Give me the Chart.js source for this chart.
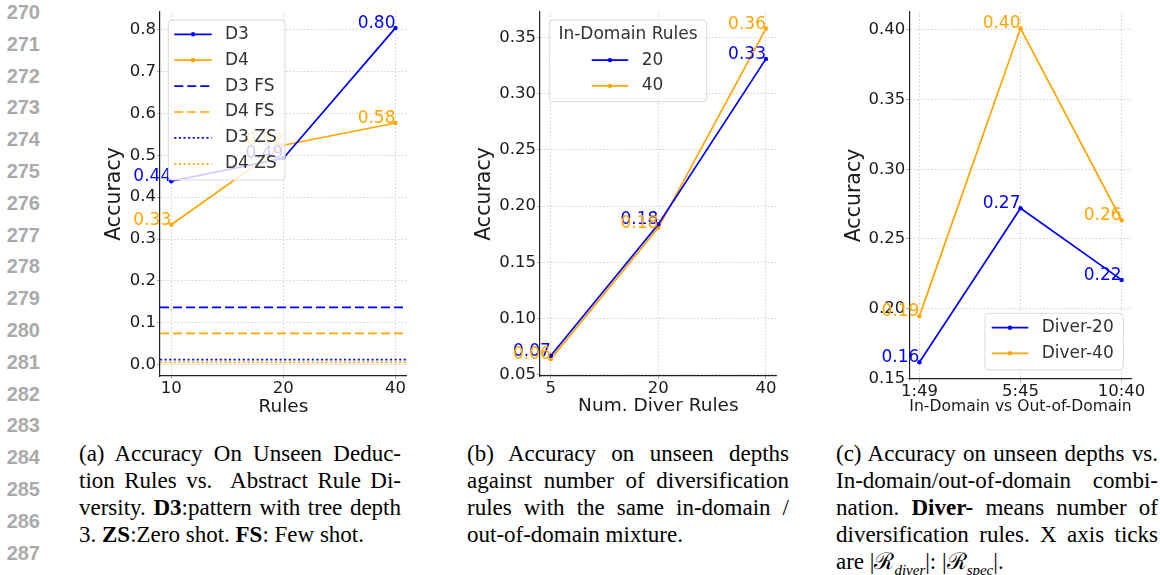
<!DOCTYPE html>
<html>
<head>
<meta charset="utf-8">
<script src="https://cdn.jsdelivr.net/npm/chart.js@4.4.1/dist/chart.umd.min.js"></script>
<style>
  body { margin: 0; width: 1160px; height: 575px; background: #fff; position: relative; overflow: hidden; }
  canvas { position: absolute; top: 0; }
  .ln { position: absolute; left: 0; width: 40px; text-align: right; font: bold 20px "Liberation Sans", Arial, sans-serif; color: #aaa; line-height: 20px; }
  .cap { position: absolute; top: 440px; width: 322px; font: 23px/27px "Liberation Serif", "Times New Roman", serif; color: #000; }
  .cap div { text-align: justify; text-align-last: justify; }
  .cap div.last { text-align-last: left; }
  .cap sub { font-size: 15px; font-style: italic; line-height: 0; }
</style>
</head>
<body>
<canvas id="chartA" width="320" height="420" style="left:100px"></canvas>
<canvas id="chartB" width="330" height="420" style="left:470px"></canvas>
<canvas id="chartC" width="320" height="420" style="left:840px"></canvas>

<div class="cap" style="left:79px">
  <div>(a) Accuracy On Unseen Deduc-</div>
  <div>tion Rules vs.&nbsp; Abstract Rule Di-</div>
  <div>versity. <b>D3</b>:pattern with tree depth</div>
  <div class="last">3. <b>ZS</b>:Zero shot. <b>FS</b>: Few shot.</div>
</div>
<div class="cap" style="left:467px">
  <div>(b) Accuracy on unseen depths</div>
  <div>against number of diversification</div>
  <div>rules with the same in-domain /</div>
  <div class="last">out-of-domain mixture.</div>
</div>
<div class="cap" style="left:836px">
  <div>(c) Accuracy on unseen depths vs.</div>
  <div>In-domain/out-of-domain combi-</div>
  <div>nation. <b>Diver-</b> means number of</div>
  <div>diversification rules. X axis ticks</div>
  <div class="last">are |&#x211B;<sub>diver</sub>|: |&#x211B;<sub>spec</sub>|.</div>
</div>

<script>
// line numbers down the margin
for (var n = 270; n <= 287; n++) {
    var d = document.createElement('div');
    d.className = 'ln';
    d.style.top = (2 + (n - 270) * 31.8) + 'px';
    d.textContent = n;
    document.body.appendChild(d);
}

var BLUE = '#0000ff', ORANGE = '#ffa500';
var X_MIN = -0.1, X_MAX = 2.1;

// (a) unseen deduction rules vs rule diversity
var rulesLabels = ['10', '20', '40'];
var d3Acc = [0.438, 0.493, 0.804];
var d4Acc = [0.334, 0.524, 0.577];
var d3FewShot = 0.137, d4FewShot = 0.075;
var d3ZeroShot = 0.012, d4ZeroShot = 0.0055;
var accTicksA = [0, 0.1, 0.2, 0.3, 0.4, 0.5, 0.6, 0.7, 0.8];

// (b) unseen depths vs number of diversification rules
var diverRuleLabels = ['5', '20', '40'];
var inDomain20 = [0.067, 0.184, 0.331];
var inDomain40 = [0.064, 0.181, 0.358];
var accTicksB = [0.05, 0.10, 0.15, 0.20, 0.25, 0.30, 0.35];

// (c) unseen depths vs in-domain / out-of-domain mix
var mixLabels = ['1:49', '5:45', '10:40'];
var diver20 = [0.1615, 0.272, 0.2206];
var diver40 = [0.1946, 0.4011, 0.2634];
var accTicksC = [0.15, 0.20, 0.25, 0.30, 0.35, 0.40];

Chart.defaults.font.family = "'DejaVu Sans', sans-serif";
Chart.defaults.color = '#1a1a1a';

function pts(vals) {
    return vals.map(function (v, i) { return {x: i, y: v}; });
}

function line(label, color, vals) {
    return {
        label: label, data: pts(vals), borderColor: color, backgroundColor: color,
        borderWidth: 1.7, pointRadius: 2.2, pointBorderWidth: 0, pointBackgroundColor: color,
        showValues: true
    };
}

function hline(label, color, v, dash) {
    return {
        label: label, data: [{x: X_MIN, y: v}, {x: X_MAX, y: v}], borderColor: color,
        borderWidth: 1.7, borderDash: dash, pointRadius: 0
    };
}

// puts the value above-left of each point, like ax.text(..., ha='right')
var valueLabels = {
    id: 'valueLabels',
    afterDatasetsDraw: function (chart) {
        var ctx = chart.ctx;
        ctx.save();
        ctx.font = "17px 'DejaVu Sans'";
        ctx.textAlign = 'right';
        ctx.textBaseline = 'alphabetic';
        chart.data.datasets.forEach(function (ds, i) {
            if (!ds.showValues) return;
            chart.getDatasetMeta(i).data.forEach(function (pt, j) {
                ctx.fillStyle = ds.borderColor;
                ctx.fillText(ds.data[j].y.toFixed(2), pt.x, pt.y);
            });
        });
        ctx.restore();
    }
};

// matplotlib-ish legend box drawn on top of the lines
var boxLegend = {
    id: 'boxLegend',
    afterDraw: function (chart, args, o) {
        var a = chart.chartArea, ctx = chart.ctx;
        var bx = o.fromRight ? a.right - o.dx - o.w : a.left + o.dx;
        var by = o.fromBottom ? a.bottom - o.dy - o.h : a.top + o.dy;
        ctx.save();
        ctx.beginPath();
        if (ctx.roundRect) ctx.roundRect(bx, by, o.w, o.h, 4);
        else ctx.rect(bx, by, o.w, o.h);
        ctx.fillStyle = 'rgba(255,255,255,0.8)';
        ctx.fill();
        ctx.strokeStyle = '#d9d9d9';
        ctx.lineWidth = 1;
        ctx.stroke();
        ctx.font = "17px 'DejaVu Sans'";
        ctx.textBaseline = 'middle';
        var y = by + o.firstRow;
        if (o.title) {
            ctx.fillStyle = '#333';
            ctx.textAlign = 'center';
            ctx.fillText(o.title, bx + o.w / 2, y);
            y += o.rowGap;
        }
        ctx.textAlign = 'left';
        chart.data.datasets.forEach(function (ds) {
            ctx.strokeStyle = ds.borderColor;
            ctx.lineWidth = ds.borderWidth;
            ctx.setLineDash(ds.borderDash || []);
            ctx.beginPath();
            ctx.moveTo(bx + o.h0, y);
            ctx.lineTo(bx + o.h1, y);
            ctx.stroke();
            ctx.setLineDash([]);
            if (ds.pointRadius > 0) {
                ctx.fillStyle = ds.borderColor;
                ctx.beginPath();
                ctx.arc(bx + (o.h0 + o.h1) / 2, y, ds.pointRadius, 0, Math.PI * 2);
                ctx.fill();
            }
            ctx.fillStyle = '#333';
            ctx.fillText(ds.label, bx + o.tx, y);
            y += o.rowGap;
        });
        ctx.restore();
    }
};

function makeScales(o) {
    return {
        x: {
            type: 'linear', min: X_MIN, max: X_MAX,
            afterBuildTicks: function (s) {
                s.ticks = o.xLabels.map(function (l, i) { return {value: i}; });
            },
            afterFit: function (s) { s.height = o.xHeight; },
            ticks: {
                callback: function (v) { return o.xLabels[v]; },
                font: {size: 16.5}, padding: 0, autoSkip: false, maxRotation: 0
            },
            grid: {color: '#c4c4c4', lineWidth: 0.8, tickLength: 3, tickColor: '#999'},
            border: {color: '#222', width: 1.2, dash: [1.5, 2]},
            title: {
                display: true, text: o.xTitle, font: {size: o.xTitleSize},
                padding: {top: 0, bottom: o.xTitlePad}
            }
        },
        y: {
            type: 'linear', min: o.yMin, max: o.yMax,
            afterBuildTicks: function (s) {
                s.ticks = o.yTicks.map(function (v) { return {value: v}; });
            },
            afterFit: function (s) { s.width = o.yWidth; },
            ticks: {
                callback: function (v) { return v.toFixed(o.yDigits); },
                font: {size: 16.5}, padding: 1
            },
            grid: {color: '#c4c4c4', lineWidth: 0.8, tickLength: 3, tickColor: '#999'},
            border: {color: '#222', width: 1.2, dash: [1.5, 2]},
            title: {
                display: true, text: 'Accuracy', font: {size: 20.5},
                padding: {top: 2.7, bottom: 0}
            }
        }
    };
}

function draw(id, datasets, scales, legend, padRight) {
    new Chart(document.getElementById(id), {
        type: 'line',
        data: {datasets: datasets},
        options: {
            responsive: false,
            animation: false,
            layout: {padding: {top: 12, right: padRight, bottom: 0, left: 0}},
            plugins: {legend: {display: false}, tooltip: {enabled: false}, boxLegend: legend},
            scales: scales
        },
        plugins: [valueLabels, boxLegend]
    });
}

draw('chartA', [
    line('D3', BLUE, d3Acc),
    line('D4', ORANGE, d4Acc),
    hline('D3 FS', BLUE, d3FewShot, [9, 4]),
    hline('D4 FS', ORANGE, d4FewShot, [9, 4]),
    hline('D3 ZS', BLUE, d3ZeroShot, [2, 2.6]),
    hline('D4 ZS', ORANGE, d4ZeroShot, [2, 2.6])
], makeScales({
    xLabels: rulesLabels, xHeight: 44, xTitle: 'Rules', xTitleSize: 18.5, xTitlePad: 2.2,
    yMin: -0.027, yMax: 0.842, yTicks: accTicksA, yDigits: 1, yWidth: 60
}), {dx: 8.3, dy: 8, w: 116.7, h: 160, firstRow: 14.3, rowGap: 25.9, h0: 6, h1: 43.4, tx: 56.7}, 13.3);

draw('chartB', [
    line('20', BLUE, inDomain20),
    line('40', ORANGE, inDomain40)
], makeScales({
    xLabels: diverRuleLabels, xHeight: 44, xTitle: 'Num. Diver Rules', xTitleSize: 18.5, xTitlePad: 2.9,
    yMin: 0.049, yMax: 0.3727, yTicks: accTicksB, yDigits: 2, yWidth: 70
}), {title: 'In-Domain Rules', dx: 9.3, dy: 8, w: 157.4, h: 81.7, firstRow: 14.3, rowGap: 25.8, h0: 42.4, h1: 79, tx: 92.4}, 23.3);

draw('chartC', [
    line('Diver-20', BLUE, diver20),
    line('Diver-40', ORANGE, diver40)
], makeScales({
    xLabels: mixLabels, xHeight: 41, xTitle: 'In-Domain vs Out-of-Domain', xTitleSize: 16, xTitlePad: 3.4,
    yMin: 0.1495, yMax: 0.4128, yTicks: accTicksC, yDigits: 2, yWidth: 69.3
}), {fromRight: true, fromBottom: true, dx: 8.4, dy: 9, w: 138.3, h: 56.7, firstRow: 14.4, rowGap: 25.6, h0: 6.7, h1: 43.3, tx: 56.7}, 28.3);
</script>
</body>
</html>
